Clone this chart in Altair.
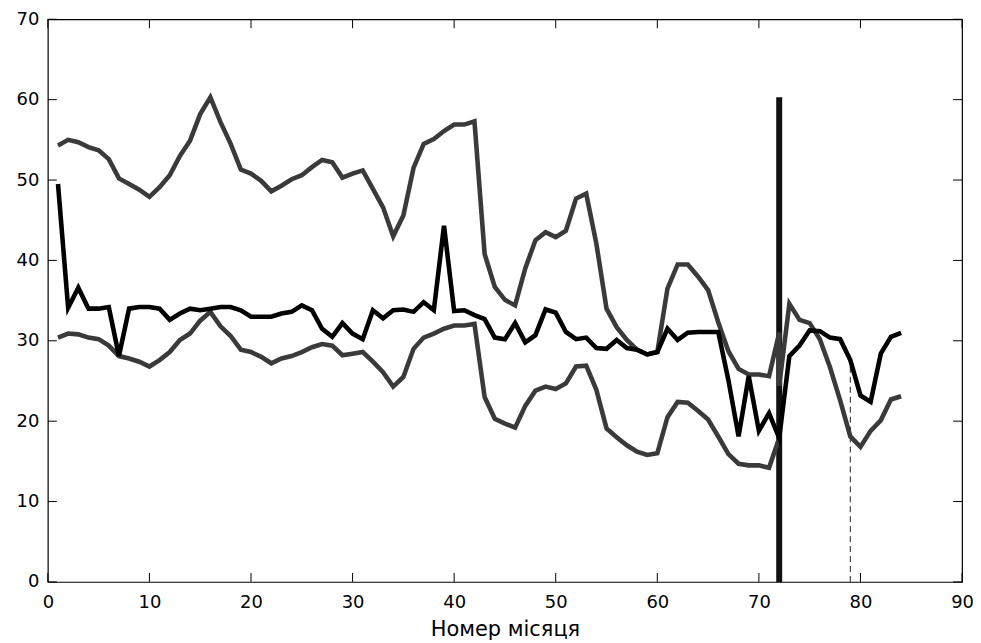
import altair as alt
import pandas as pd

# ---------------- data ----------------
months = list(range(1, 85))
main_vals = [
    49.5, 34.1, 36.6, 34.0, 34.0, 34.2, 28.1, 34.0, 34.2, 34.2,
    34.0, 32.6, 33.4, 34.0, 33.8, 34.0, 34.2, 34.2, 33.8, 33.0,
    33.0, 33.0, 33.4, 33.6, 34.4, 33.8, 31.5, 30.5, 32.2, 30.9,
    30.2, 33.8, 32.8, 33.8, 33.9, 33.6, 34.8, 33.8, 44.3, 33.7,
    33.8, 33.2, 32.7, 30.4, 30.2, 32.2, 29.8, 30.7, 33.9, 33.5,
    31.1, 30.2, 30.4, 29.1, 29.0, 30.1, 29.1, 28.9, 28.3, 28.6,
    31.5, 30.1, 31.0, 31.1, 31.1, 31.1, 25.1, 18.1, 25.6, 18.8,
    21.0, 17.9, 28.1, 29.4, 31.3, 31.2, 30.4, 30.2, 27.6, 23.2,
    22.4, 28.4, 30.5, 31.0,
]

upper_x = list(range(1, 73)) + [72] + list(range(73, 85))
upper_vals = [
    54.3, 55.0, 54.7, 54.1, 53.7, 52.6, 50.2, 49.5, 48.8, 47.9,
    49.1, 50.6, 53.0, 54.9, 58.2, 60.3, 57.2, 54.5, 51.3, 50.8,
    49.9, 48.6, 49.3, 50.1, 50.6, 51.6, 52.5, 52.2, 50.3, 50.8,
    51.2, 48.9, 46.6, 43.0, 45.6, 51.5, 54.5, 55.1, 56.1, 56.9,
    56.9, 57.3, 40.8, 36.7, 35.1, 34.4, 39.0, 42.5, 43.5, 42.9,
    43.7, 47.7, 48.3, 42.1, 34.0, 31.7, 30.1, 28.9, 28.3, 28.6,
    36.5, 39.5, 39.5, 38.0, 36.3, 32.3, 28.7, 26.5, 25.8, 25.8,
    25.6, 31.0,
    24.4,
    34.6, 32.6, 32.2, 30.2, 26.7, 22.6, 18.1, 16.8, 18.8, 20.1,
    22.7, 23.1,
]

lower_x = list(range(1, 73))
lower_vals = [
    30.4, 30.9, 30.8, 30.4, 30.2, 29.4, 28.1, 27.8, 27.4, 26.8,
    27.6, 28.6, 30.1, 30.9, 32.5, 33.6, 31.8, 30.6, 28.9, 28.6,
    28.0, 27.2, 27.8, 28.1, 28.6, 29.2, 29.6, 29.4, 28.2, 28.4,
    28.6, 27.4, 26.1, 24.3, 25.5, 29.0, 30.4, 30.9, 31.5, 31.9,
    31.9, 32.1, 23.0, 20.3, 19.7, 19.2, 21.9, 23.8, 24.3, 24.0,
    24.7, 26.8, 26.9, 23.9, 19.1, 18.0, 17.0, 16.2, 15.8, 16.0,
    20.5, 22.4, 22.3, 21.3, 20.2, 18.1, 15.9, 14.7, 14.5, 14.5,
    14.2, 17.9,
]

x_ticks = [0, 10, 20, 30, 40, 50, 60, 70, 80, 90]
y_ticks = [0, 10, 20, 30, 40, 50, 60, 70]

cutoff_month = 72
cutoff_top = 60.3
marker_month = 79
marker_top = main_vals[months.index(marker_month)]

x_title = "Номер місяця"

# ---------------- chart ----------------
W, H = 918, 565
TICK = 9
FONT = "DejaVu Sans"

main_df = pd.DataFrame({"m": months, "v": main_vals, "i": list(range(len(months)))})
upper_df = pd.DataFrame({"m": upper_x, "v": upper_vals, "i": list(range(len(upper_x)))})
lower_df = pd.DataFrame({"m": lower_x, "v": lower_vals, "i": list(range(len(lower_x)))})
cut_df = pd.DataFrame({"m": [cutoff_month], "v": [0], "y1": [cutoff_top]})
mark_df = pd.DataFrame({"m": [marker_month], "v": [0], "y1": [marker_top]})
xt_df = pd.DataFrame({"m": x_ticks})
yt_df = pd.DataFrame({"v": y_ticks})

xs = alt.Scale(domain=[0, 90], nice=False, zero=False)
ys = alt.Scale(domain=[0, 70], nice=False, zero=False)

x_axis = alt.Axis(
    values=x_ticks, title=x_title, grid=False, ticks=False, tickSize=0,
    domain=False, labelFont=FONT, labelFontSize=18, labelColor="#000",
    labelPadding=12, titleFont=FONT, titleFontSize=21, titleFontWeight="normal",
    titleColor="#000", titleBaseline="alphabetic", titleY=54, labelFlush=False,
)
y_axis = alt.Axis(
    values=y_ticks, title=None, grid=False, ticks=False, tickSize=0,
    domain=False, labelFont=FONT, labelFontSize=18, labelColor="#000",
    labelPadding=9, labelFlush=False,
)

X = lambda: alt.X("m:Q", scale=xs, axis=x_axis)
Y = lambda: alt.Y("v:Q", scale=ys, axis=y_axis)

cut_rule = alt.Chart(cut_df).mark_rule(color="#111111", strokeWidth=6).encode(
    x=X(), y=Y(), y2="y1:Q",
)

marker_rule = alt.Chart(mark_df).mark_rule(
    color="#222222", strokeWidth=1, strokeDash=[6, 4]
).encode(x=X(), y=Y(), y2="y1:Q")

def band(df, color, width):
    return alt.Chart(df).mark_line(color=color, strokeWidth=width).encode(
        x=X(), y=Y(), order="i:Q",
    )

upper_line = band(upper_df, "#3a3a3a", 4.6)
lower_line = band(lower_df, "#3a3a3a", 4.6)
main_line = band(main_df, "#000000", 4.6)

tick_bottom = alt.Chart(xt_df).mark_rule(color="#000", strokeWidth=1).encode(
    x=X(), y=alt.value(H), y2=alt.value(H - TICK)
)
tick_top = alt.Chart(xt_df).mark_rule(color="#000", strokeWidth=1).encode(
    x=X(), y=alt.value(0), y2=alt.value(TICK)
)
tick_left = alt.Chart(yt_df).mark_rule(color="#000", strokeWidth=1).encode(
    y=Y(), x=alt.value(0), x2=alt.value(TICK)
)
tick_right = alt.Chart(yt_df).mark_rule(color="#000", strokeWidth=1).encode(
    y=Y(), x=alt.value(W), x2=alt.value(W - TICK)
)

chart = alt.layer(
    cut_rule, marker_rule, upper_line, lower_line, main_line,
    tick_bottom, tick_top, tick_left, tick_right,
).properties(
    width=W, height=H,
    autosize=alt.AutoSizeParams(type="none"),
    padding={"left": 40, "top": 10, "right": 11, "bottom": 60},
    background="#ffffff",
).configure_view(
    stroke="#000000", strokeWidth=1.2
)

chart.save("out.html", embed_options={"renderer": "svg", "actions": False})
